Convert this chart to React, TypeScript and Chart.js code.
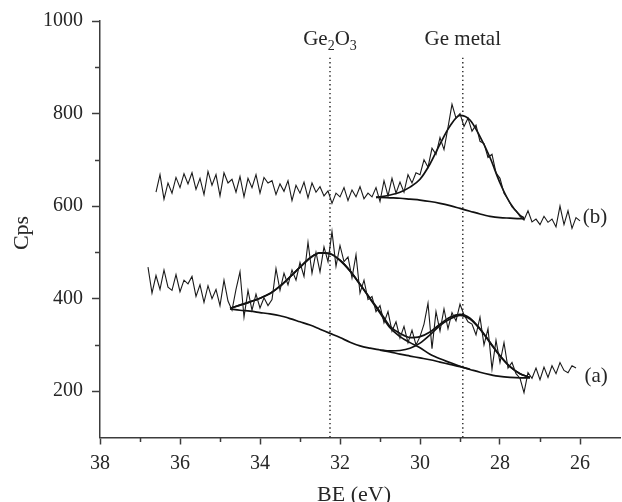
import React, { useEffect, useRef } from "react";
import { Chart, registerables } from "chart.js";

Chart.register(...registerables);

// ---------- axes / ticks ----------
const X_MIN = 25;
const X_MAX = 38;
const X_MAJOR_TICKS = [38, 36, 34, 32, 30, 28, 26];
const X_MINOR_TICKS = [37, 35, 33, 31, 29, 27];
const Y_MIN = 100;
const Y_MAX = 1000;
const Y_MAJOR_TICKS = [200, 400, 600, 800, 1000];
const Y_MINOR_TICKS = [300, 500, 700, 900];

// ---------- raw spectra (binding energy sampled every 0.1 eV, high -> low) ----------
const RAW_STEP = 0.1;
const RAW_B_START = 36.6;
const RAW_B = [
  630, 668, 615, 650, 628, 662, 640, 670, 648, 672,
  636, 660, 625, 675, 645, 668, 622, 672, 650, 658,
  630, 664, 620, 660, 640, 668, 628, 662, 650, 655,
  625, 648, 632, 655, 612, 645, 628, 652, 618, 650,
  630, 642, 622, 633, 606, 628, 620, 640, 612, 635,
  620, 642, 616, 628, 620, 640, 610, 655, 622, 660,
  628, 652, 630, 668, 650, 672, 668, 700, 684, 725,
  712, 748, 722, 770, 820, 790, 800, 772, 790, 762,
  775, 740, 735, 705, 712, 672, 660, 628, 615, 598,
  590, 578, 570, 590, 566, 572, 560, 578, 565, 572,
  555, 600, 560, 590, 552, 575, 568,
];
const RAW_A_START = 36.8;
const RAW_A = [
  468, 412, 450, 420, 462, 425, 418, 452, 415, 440,
  432, 448, 405, 430, 392, 428, 400, 420, 385, 440,
  395, 375, 420, 458, 360, 418, 375, 410, 380, 402,
  385, 398, 465, 418, 455, 430, 462, 440, 478, 448,
  522, 455, 500, 458, 512, 480, 545, 470, 515, 480,
  490, 445, 495, 412, 440, 398, 405, 372, 385, 348,
  372, 330, 350, 315, 340, 305, 332, 300, 318, 345,
  390, 292, 372, 330, 378, 335, 370, 352, 388, 365,
  350, 345, 322, 360, 300, 335, 248, 310, 262, 305,
  250, 262, 238, 228, 197, 240, 228, 250, 225, 252,
  230, 255, 238, 262, 245, 240, 255, 250,
];

// ---------- fitted curves, spectrum (b) ----------
const FIT_B_BE = [31.1, 31.0, 30.75, 30.5, 30.25, 30.0, 29.75, 29.5, 29.25, 29.0, 28.75, 28.5, 28.25, 28.0, 27.75, 27.5, 27.4];
const FIT_B_BG = [619, 619, 618, 617, 615, 613, 610, 606, 601, 595, 589, 583, 578, 575, 574, 573, 573];
const FIT_B_ENV = [619, 620, 624, 630, 641, 658, 691, 734, 773, 796, 786, 750, 705, 650, 607, 580, 575];

// ---------- fitted curves, spectrum (a) ----------
const FIT_A_BE = [34.75, 34.5, 34.25, 34.0, 33.75, 33.5, 33.25, 33.0, 32.75, 32.5, 32.25, 32.0, 31.75, 31.5, 31.25, 31.0, 30.75, 30.5, 30.25, 30.0, 29.75, 29.5, 29.25, 29.0, 28.75, 28.5, 28.25, 28.0, 27.75, 27.5, 27.25];
const FIT_A_BG = [378, 375, 373, 370, 367, 363, 357, 350, 343, 334, 325, 316, 306, 298, 293, 289, 285, 280, 276, 272, 268, 263, 258, 253, 247, 241, 236, 232, 230, 229, 229];
const FIT_A_ENV = [379, 386, 393, 401, 411, 427, 447, 468, 488, 499, 497, 483, 460, 431, 401, 372, 340, 325, 316, 318, 328, 345, 360, 366, 358, 335, 306, 277, 253, 238, 230];
const FIT_A_OXIDE_BE = [34.75, 34.5, 34.25, 34.0, 33.75, 33.5, 33.25, 33.0, 32.75, 32.5, 32.25, 32.0, 31.75, 31.5, 31.25, 31.0, 30.75, 30.5, 30.25, 30.0, 29.75, 29.5, 29.25, 29.0, 28.75];
const FIT_A_OXIDE = [379, 386, 393, 401, 411, 427, 447, 468, 488, 499, 497, 483, 460, 431, 400, 369, 337, 318, 305, 294, 280, 270, 262, 254, 247];
const FIT_A_METAL_BE = [31.0, 30.75, 30.5, 30.25, 30.0, 29.75, 29.5, 29.25, 29.0, 28.75, 28.5, 28.25, 28.0, 27.75, 27.5, 27.25];
const FIT_A_METAL = [289, 287, 288, 293, 304, 322, 342, 356, 364, 356, 334, 305, 276, 253, 238, 230];

// ---------- reference lines and labels ----------
const REF_BE = [32.25, 28.93];
const REF_TOP = 925;
const LABEL_Y = 948;
const CURVE_LABEL_BE = [25.93, 25.89];
const CURVE_LABEL_Y = [563, 221];
const CURVE_LABELS = ["(b)", "(a)"];

const AXIS_COLOR = "#3c3c3c";
const TEXT_COLOR = "#262626";
const LINE_COLOR = "#1a1a1a";
const FONT = "'Liberation Serif', 'Times New Roman', serif";

function sampled(start: number, ys: number[]) {
  return ys.map((y, i) => ({ x: +(start - i * RAW_STEP).toFixed(2), y }));
}
function paired(xs: number[], ys: number[]) {
  return xs.map((x, i) => ({ x, y: ys[i] }));
}

const annotations = {
  id: "annotations",
  afterDraw(chart: any) {
    const { ctx } = chart;
    const x = chart.scales.x;
    const y = chart.scales.y;
    ctx.save();
    // minor ticks
    ctx.strokeStyle = AXIS_COLOR;
    ctx.lineWidth = 1.5;
    ctx.beginPath();
    for (const v of X_MINOR_TICKS) {
      const px = Math.round(x.getPixelForValue(v)) + 0.5;
      ctx.moveTo(px, y.bottom);
      ctx.lineTo(px, y.bottom + 4.5);
    }
    for (const v of Y_MINOR_TICKS) {
      const py = Math.round(y.getPixelForValue(v)) + 0.5;
      ctx.moveTo(x.left, py);
      ctx.lineTo(x.left - 5, py);
    }
    ctx.stroke();

    ctx.fillStyle = TEXT_COLOR;
    // Ge2O3 with subscripts
    const main = `21px ${FONT}`;
    const sub = `14px ${FONT}`;
    const parts: [string, string, number][] = [
      ["Ge", main, 0],
      ["2", sub, 5],
      ["O", main, 0],
      ["3", sub, 5],
    ];
    let total = 0;
    for (const [t, f] of parts) {
      ctx.font = f;
      total += ctx.measureText(t).width;
    }
    let cx = x.getPixelForValue(REF_BE[0]) - total / 2;
    const ly = y.getPixelForValue(LABEL_Y);
    ctx.textBaseline = "alphabetic";
    ctx.textAlign = "left";
    for (const [t, f, dy] of parts) {
      ctx.font = f;
      ctx.fillText(t, cx, ly + dy);
      cx += ctx.measureText(t).width;
    }
    // Ge metal
    ctx.font = main;
    ctx.textAlign = "center";
    ctx.fillText("Ge metal", x.getPixelForValue(REF_BE[1]), ly);
    // curve labels
    ctx.textAlign = "left";
    CURVE_LABELS.forEach((t, i) => {
      ctx.fillText(t, x.getPixelForValue(CURVE_LABEL_BE[i]), y.getPixelForValue(CURVE_LABEL_Y[i]));
    });
    // axis titles
    ctx.font = `22px ${FONT}`;
    ctx.textAlign = "center";
    ctx.fillText("BE (eV)", 354, 501);
    ctx.translate(28, 233);
    ctx.rotate(-Math.PI / 2);
    ctx.fillText("Cps", 0, 0);
    ctx.restore();
  },
};

export default function App() {
  const ref = useRef<HTMLCanvasElement>(null);
  useEffect(() => {
    const rawStyle = { borderColor: LINE_COLOR, borderWidth: 1.1, pointRadius: 0, tension: 0, fill: false };
    const fitStyle = { borderColor: "#111", borderWidth: 1.7, pointRadius: 0, cubicInterpolationMode: "monotone", fill: false };
    const refStyle = { borderColor: "#222", borderWidth: 1.4, borderDash: [1.4, 3], pointRadius: 0, fill: false };
    const datasets: any[] = [
      { label: "raw b", data: sampled(RAW_B_START, RAW_B), ...rawStyle },
      { label: "raw a", data: sampled(RAW_A_START, RAW_A), ...rawStyle },
      { label: "bg b", data: paired(FIT_B_BE, FIT_B_BG), ...fitStyle },
      { label: "env b", data: paired(FIT_B_BE, FIT_B_ENV), ...fitStyle },
      { label: "bg a", data: paired(FIT_A_BE, FIT_A_BG), ...fitStyle },
      { label: "oxide a", data: paired(FIT_A_OXIDE_BE, FIT_A_OXIDE), ...fitStyle },
      { label: "metal a", data: paired(FIT_A_METAL_BE, FIT_A_METAL), ...fitStyle },
      { label: "env a", data: paired(FIT_A_BE, FIT_A_ENV), ...fitStyle },
      ...REF_BE.map((be, i) => ({
        label: "ref " + i,
        data: [
          { x: be, y: Y_MIN },
          { x: be, y: REF_TOP },
        ],
        ...refStyle,
      })),
    ];
    const chart = new Chart(ref.current as HTMLCanvasElement, {
      type: "line",
      data: { datasets },
      options: {
        animation: false,
        responsive: false,
        devicePixelRatio: 1,
        layout: { padding: { top: 21, right: 2, left: 0, bottom: 0 } },
        plugins: { legend: { display: false }, tooltip: { enabled: false } },
        elements: { point: { radius: 0 } },
        scales: {
          x: {
            type: "linear",
            reverse: true,
            min: X_MIN,
            max: X_MAX,
            border: { display: true, color: AXIS_COLOR, width: 1.5 },
            grid: {
              drawOnChartArea: false,
              drawTicks: true,
              tickLength: 7,
              tickWidth: 1.5,
              tickColor: (c: any) => (c.tick && X_MAJOR_TICKS.includes(c.tick.value) ? AXIS_COLOR : "rgba(0,0,0,0)"),
            },
            ticks: {
              stepSize: 1,
              autoSkip: false,
              maxRotation: 0,
              padding: 7,
              color: TEXT_COLOR,
              font: { size: 20, family: FONT },
              callback: (v: any) => (X_MAJOR_TICKS.includes(Number(v)) ? String(v) : ""),
            },
            afterFit: (s: any) => {
              s.height = 64.5;
              s.paddingLeft = 0;
              s.paddingRight = 0;
            },
          },
          y: {
            type: "linear",
            min: Y_MIN,
            max: Y_MAX,
            border: { display: true, color: AXIS_COLOR, width: 1.5 },
            grid: {
              drawOnChartArea: false,
              drawTicks: true,
              tickLength: 8,
              tickWidth: 1.5,
              tickColor: (c: any) => (c.tick && Y_MAJOR_TICKS.includes(c.tick.value) ? AXIS_COLOR : "rgba(0,0,0,0)"),
            },
            ticks: {
              stepSize: 100,
              autoSkip: false,
              padding: 9,
              color: TEXT_COLOR,
              font: { size: 20, family: FONT },
              callback: (v: any) => (Y_MAJOR_TICKS.includes(Number(v)) ? String(v) : ""),
            },
            afterFit: (s: any) => {
              s.width = 100;
            },
          },
        },
      } as any,
      plugins: [annotations],
    });
    return () => chart.destroy();
  }, []);
  return (
    <div style={{ position: "fixed", left: 0, top: 0, width: 622, height: 502, background: "#fff" }}>
      <canvas ref={ref} width={622} height={502} style={{ display: "block", width: 622, height: 502 }} />
    </div>
  );
}
